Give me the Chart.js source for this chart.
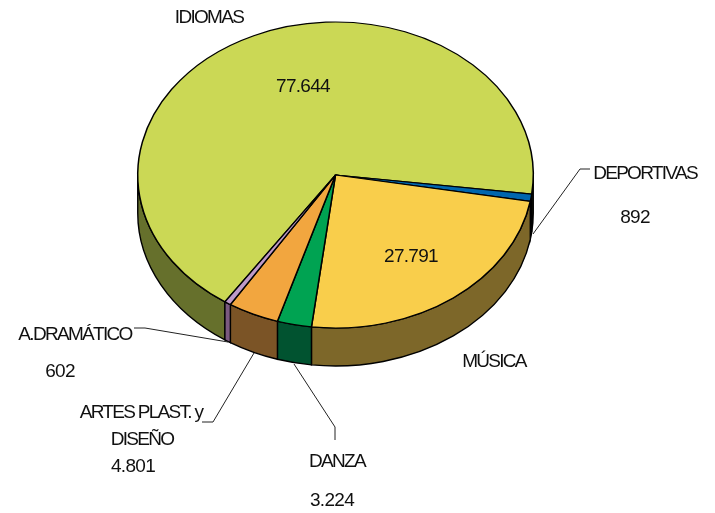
<!DOCTYPE html>
<html>
<head>
<meta charset="utf-8">
<script src="https://cdn.jsdelivr.net/npm/chart.js@4"></script>
<style>
  html, body { margin: 0; padding: 0; background: #fff; }
  #wrap { position: relative; width: 715px; height: 513px; }
</style>
</head>
<body>
<div id="wrap"><canvas id="pie" width="715" height="513"></canvas></div>
<script>
const categories = ['IDIOMAS', 'DEPORTIVAS', 'MÚSICA', 'DANZA', 'ARTES PLAST. y DISEÑO', 'A.DRAMÁTICO'];
const values = [77644, 892, 27791, 3224, 4801, 602];
const topColors = ['#cbd855', '#0066ae', '#f9ce4b', '#00a352', '#f2a63f', '#be9ac8'];
const sideColors = ['#66702c', '#00345a', '#7d6729', '#015330', '#7b5426', '#7b5a80'];

// label placement: [text, center x, center y]
const nameItems = [
  [categories[0], 209, 18], [categories[1], 645, 174], [categories[2], 494, 362],
  [categories[3], 337, 462], ['ARTES PLAST. y', 141, 413], ['DISEÑO', 142, 440],
  [categories[5], 75, 335]
];
const numberItems = [
  [fmt(values[0]), 303, 87], [fmt(values[1]), 635, 218], [fmt(values[2]), 411, 257],
  [fmt(values[3]), 332, 501], [fmt(values[4]), 133, 467], [fmt(values[5]), 60, 372]
];
const leaders = [
  [[590, 169], [580, 169], [533, 234]],
  [[294, 364], [335, 427], [335, 440]],
  [[202, 422], [213, 422], [254, 353]],
  [[134, 328], [145, 328], [228, 342]]
];

// ellipse of the top face
const tilt = { cy: 175, ry: 153, depth: 38 };

function fmt(n) {
  return String(n).replace(/\B(?=(\d{3})+$)/g, '.');
}

const tiltPlugin = {
  id: 'tilt',
  beforeDatasetsDraw(chart) {
    const ctx = chart.ctx;
    const arcs = chart.getDatasetMeta(0).data;
    const a0 = arcs[0];
    const k = tilt.ry / a0.outerRadius;

    // side wall, only the part of each slice facing the viewer
    ctx.save();
    ctx.strokeStyle = '#000';
    ctx.lineWidth = 1.4;
    arcs.forEach((arc, i) => {
      const tau = Math.PI * 2;
      for (let turn = -1; turn <= 1; turn++) {
        const from = Math.max(arc.startAngle + turn * tau, 0);
        const to = Math.min(arc.endAngle + turn * tau, Math.PI);
        if (to <= from) continue;
        ctx.beginPath();
        ctx.ellipse(arc.x, tilt.cy, arc.outerRadius, tilt.ry, 0, from, to);
        ctx.ellipse(arc.x, tilt.cy + tilt.depth, arc.outerRadius, tilt.ry, 0, to, from, true);
        ctx.closePath();
        ctx.fillStyle = sideColors[i];
        ctx.fill();
        ctx.stroke();
      }
    });
    ctx.restore();

    // squash the pie itself
    ctx.save();
    ctx.translate(a0.x, tilt.cy);
    ctx.scale(1, k);
    ctx.translate(-a0.x, -a0.y);
  },
  afterDatasetsDraw(chart) {
    const ctx = chart.ctx;
    ctx.restore();

    ctx.save();
    ctx.strokeStyle = '#222';
    ctx.lineWidth = 1;
    leaders.forEach(pts => {
      ctx.beginPath();
      pts.forEach((p, i) => i ? ctx.lineTo(p[0], p[1]) : ctx.moveTo(p[0], p[1]));
      ctx.stroke();
    });

    ctx.fillStyle = '#111';
    ctx.font = '19px "Liberation Sans", Arial, sans-serif';
    ctx.textAlign = 'center';
    ctx.textBaseline = 'middle';
    ctx.letterSpacing = '-1.7px';
    nameItems.forEach(t => ctx.fillText(t[0], t[1], t[2]));
    ctx.letterSpacing = '-0.7px';
    numberItems.forEach(t => ctx.fillText(t[0], t[1], t[2]));
    ctx.restore();
  }
};

new Chart(document.getElementById('pie'), {
  type: 'pie',
  data: {
    labels: categories,
    datasets: [{
      data: values,
      backgroundColor: topColors,
      borderColor: '#000',
      borderWidth: 1.5,
      clip: false
    }]
  },
  options: {
    responsive: false,
    animation: false,
    rotation: -146,
    layout: { padding: { left: 137, right: 181, top: 0, bottom: 0 } },
    plugins: { legend: { display: false }, tooltip: { enabled: false } }
  },
  plugins: [tiltPlugin]
});
</script>
</body>
</html>
